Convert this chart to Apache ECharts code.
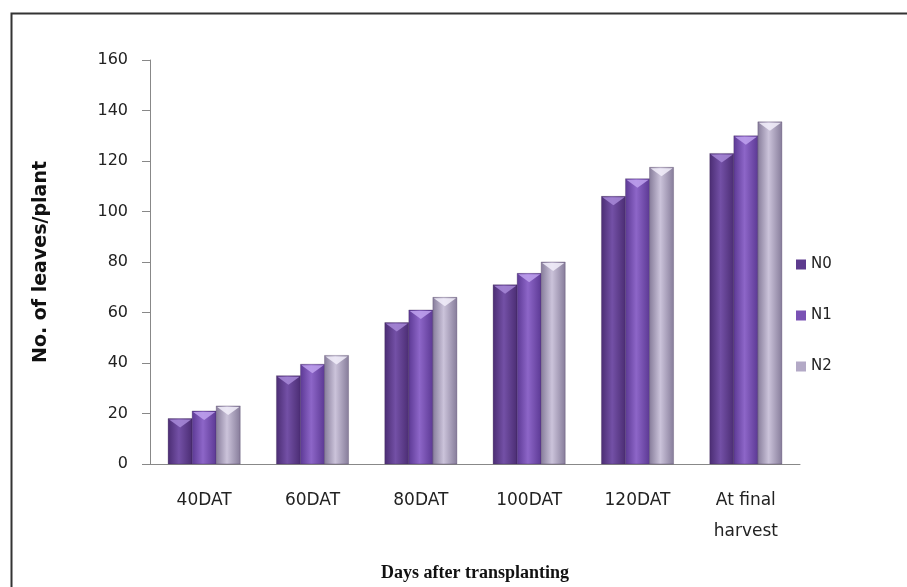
<!DOCTYPE html>
<html>
<head>
<meta charset="utf-8">
<script src="https://cdn.jsdelivr.net/npm/echarts@6/dist/echarts.min.js"></script>
<style>
  html, body { margin: 0; padding: 0; background: #fff; }
  #chart { width: 907px; height: 587px; }
</style>
</head>
<body>
<div id="chart"></div>
<script>
// 数据
var categories = ['40DAT', '60DAT', '80DAT', '100DAT', '120DAT', 'At final\nharvest'];
var seriesNames = ['N0', 'N1', 'N2'];
var n0 = [18, 35, 56, 71, 106, 123];
var n1 = [21, 39.5, 61, 75.5, 113, 130];
var n2 = [23, 43, 66, 80, 117.5, 135.5];
var yTicks = [0, 20, 40, 60, 80, 100, 120, 140, 160];

(function () {
    var myChart = echarts.init(document.getElementById('chart'));

    // 柱子颜色: 边缘 / 中间 / 顶部高光
    var shades = [
        { edge: '#4a2c72', mid: '#7350a6', top: '#a88ad8', legend: '#5d3b8e' },
        { edge: '#5b3893', mid: '#8d66c8', top: '#bfa2ee', legend: '#7a52b4' },
        { edge: '#857b99', mid: '#cbc3da', top: '#f2eefa', legend: '#b3a9c6' }
    ];
    var allData = [n0, n1, n2];

    function makeRender(k) {
        return function (params, api) {
            var i = api.value(0);
            var top = api.coord([i, api.value(1)]);
            var base = api.coord([i, 0]);
            var catW = api.size([1, 0])[0];
            var bw = catW * 0.222;
            var x = top[0] - bw * 1.5 + k * bw;
            var h = base[1] - top[1];
            var c = shades[k];
            var grad = new echarts.graphic.LinearGradient(0, 0, 1, 0, [
                { offset: 0, color: c.edge },
                { offset: 0.45, color: c.mid },
                { offset: 1, color: c.edge }
            ]);
            var triH = Math.min(9, h);
            return {
                type: 'group',
                children: [
                    {
                        type: 'rect',
                        shape: { x: x, y: top[1], width: bw, height: h },
                        style: { fill: grad, stroke: 'rgba(60,40,80,0.35)', lineWidth: 0.8 }
                    },
                    {
                        type: 'polygon',
                        shape: { points: [[x + 1, top[1] + 1], [x + bw - 1, top[1] + 1], [x + bw / 2, top[1] + triH]] },
                        style: { fill: c.top, opacity: 0.85 }
                    }
                ]
            };
        };
    }

    var series = seriesNames.map(function (name, k) {
        return {
            name: name,
            type: 'custom',
            renderItem: makeRender(k),
            itemStyle: { color: shades[k].legend },
            encode: { x: 0, y: 1 },
            data: allData[k].map(function (v, i) { return [i, v]; })
        };
    });

    var option = {
        backgroundColor: '#fff',
        animation: false,
        // 外边框
        graphic: [{
            type: 'rect',
            left: 9, top: 11,
            shape: { width: 1000, height: 1000 },
            style: { fill: 'none', stroke: '#333', lineWidth: 2 },
            silent: true
        }],
        grid: { left: 150, right: 107, top: 60, bottom: 120 },
        legend: {
            orient: 'vertical',
            left: 791,
            top: 252,
            itemWidth: 10,
            itemHeight: 10,
            itemGap: 36,
            icon: 'rect',
            textStyle: { fontFamily: 'DejaVu Sans', fontSize: 15, color: '#222' },
            data: seriesNames
        },
        xAxis: {
            type: 'category',
            data: categories,
            name: 'Days after transplanting',
            nameLocation: 'middle',
            nameGap: 100,
            nameTextStyle: { fontFamily: 'Liberation Serif', fontWeight: 'bold', fontSize: 18, color: '#111' },
            axisLine: { lineStyle: { color: '#888' } },
            axisTick: { length: 6, lineStyle: { color: '#888' } },
            axisLabel: { fontFamily: 'DejaVu Sans', fontSize: 17, color: '#222', margin: 21, lineHeight: 31 }
        },
        yAxis: {
            type: 'value',
            min: yTicks[0],
            max: yTicks[yTicks.length - 1],
            interval: 20,
            name: 'No. of leaves/plant',
            nameLocation: 'middle',
            nameGap: 99,
            nameTextStyle: { fontFamily: 'DejaVu Sans', fontWeight: 'bold', fontSize: 19, color: '#111' },
            axisLine: { show: true, lineStyle: { color: '#888' } },
            axisTick: { show: true, length: 8, lineStyle: { color: '#888' } },
            axisLabel: { fontFamily: 'DejaVu Sans', fontSize: 16, color: '#222', margin: 22 },
            splitLine: { show: false }
        },
        series: series
    };
    myChart.setOption(option);
    window.addEventListener('resize', function () {
        myChart.resize();
    });
})();
</script>
</body>
</html>
